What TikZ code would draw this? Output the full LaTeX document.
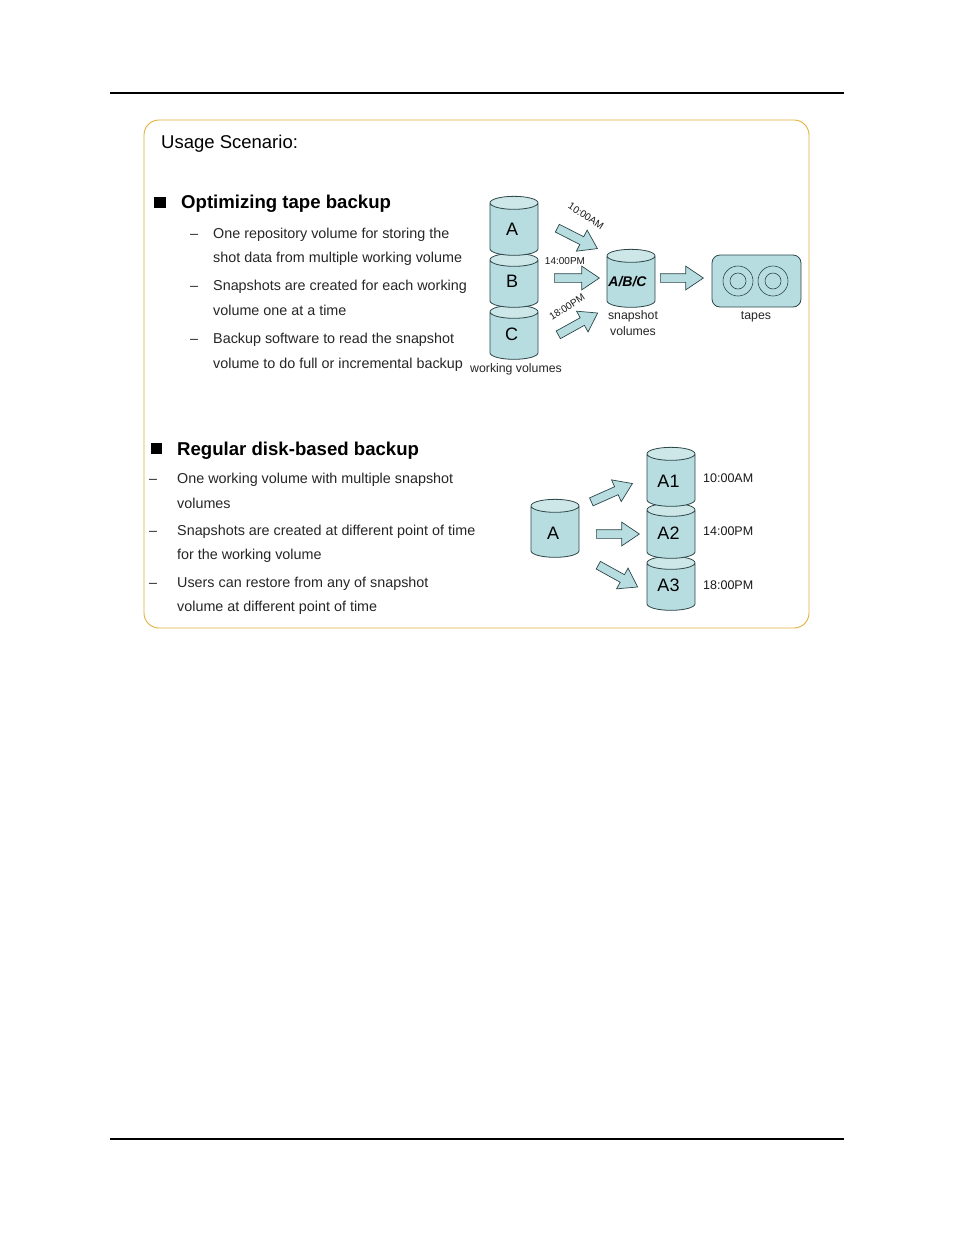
\documentclass[tikz,border=0pt]{standalone}
\usepackage{fontspec}
\usepackage{xcolor}
\setmainfont{Liberation Sans}
\usetikzlibrary{shapes.geometric, shapes.arrows, positioning}
\definecolor{volfill}{RGB}{184,221,225}
\definecolor{voltop}{RGB}{205,231,233}
\definecolor{voledge}{RGB}{45,70,72}
\definecolor{framegold}{RGB}{226,176,60}
\begin{document}
\begin{tikzpicture}[x=1pt, y=-1pt,
      vol/.style={cylinder, shape border rotate=90, draw=voledge, line width=0.8pt,
                  cylinder uses custom fill, cylinder body fill=volfill, cylinder end fill=voltop,
                  aspect=1, minimum width=48pt, inner sep=6.5pt},
      vollabel/.style={font=\fontsize{18}{18}\selectfont, inner sep=0pt},
      blockarrow/.style={single arrow, draw=voledge, line width=0.7pt, fill=volfill, inner sep=4pt,
                  single arrow head extend=7.5pt, single arrow head indent=0pt,
                  single arrow tip angle=68, anchor=tail},
      head/.style={anchor=base west, inner sep=0pt, font=\fontsize{18.6}{18.6}\selectfont\bfseries},
      body/.style={anchor=base west, inner sep=0pt, font=\fontsize{14.35}{14.35}\selectfont, text=black!85},
      small/.style={anchor=base, inner sep=0pt, font=\fontsize{12.3}{12.3}\selectfont, text=black!85},
      stamp/.style={font=\fontsize{10}{10}\selectfont, text=black!90, inner sep=0pt},
      bulletbox/.style={fill=black, minimum size=11.5pt, inner sep=0pt}]
    \useasboundingbox (0,0) rectangle (954,1235);
    \fill[white] (0,0) rectangle (954,1235);
    \draw[line width=1.8pt] (110,93) -- (844,93);
    \draw[line width=1.8pt] (110,1139) -- (844,1139);
    \draw[framegold, line width=0.9pt, rounded corners=15pt] (144,120) rectangle (809,628);

    \node[anchor=base west, inner sep=0pt, font=\fontsize{18.5}{18.5}\selectfont] (title) at (161,148) {Usage Scenario:};

    % first block
    \node[bulletbox] (bulA) at (160,202.5) {};
    \node[head] (headA) at (181,208) {Optimizing tape backup};
    \node[body] (la1) at (213,238) {One repository volume for storing the};
    \node[body] (la2) at (213,262) {shot data from multiple working volume};
    \node[body] (la3) at (213,290) {Snapshots are created for each working};
    \node[body] (la4) at (213,315) {volume one at a time};
    \node[body] (la5) at (213,343) {Backup software to read the snapshot};
    \node[body] (la6) at (213,368) {volume to do full or incremental backup};
    \foreach \yy/\nm in {238/a,290/b,343/c}
      \node[body] (da\nm) at (190,\yy) {--};

    % second block
    \node[bulletbox] (bulB) at (156.5,448.5) {};
    \node[head] (headB) at (177,455) {Regular disk-based backup};
    \node[body] (lb1) at (177,483) {One working volume with multiple snapshot};
    \node[body] (lb2) at (177,508) {volumes};
    \node[body] (lb3) at (177,535) {Snapshots are created at different point of time};
    \node[body] (lb4) at (177,559) {for the working volume};
    \node[body] (lb5) at (177,587) {Users can restore from any of snapshot};
    \node[body] (lb6) at (177,611) {volume at different point of time};
    \foreach \yy/\nm in {483/a,535/b,587/c}
      \node[body] (db\nm) at (149,\yy) {--};

    % working volumes
    \node[vol, minimum height=54pt] (volC) at (514,338) {};
    \node[vol, minimum height=54pt] (volB) at (514,286) {};
    \node[vol, minimum height=59pt] (volA) at (514,231.5) {};
    \node[vollabel] (txtA) at (512,229) {A};
    \node[vollabel] (txtB) at (512,281.5) {B};
    \node[vollabel] (txtC) at (511.5,334) {C};
    \node[small] (lblwork) at (516,372) {working volumes};

    % snapshot volume and tapes
    \node[vol, minimum height=58pt] (volS) at (631,284) {};
    \node[vollabel, font=\fontsize{14}{14}\selectfont\bfseries\itshape] (txtS) at (627.5,282) {A/B/C};
    \node[small] (lblsnapa) at (633,319) {snapshot};
    \node[small] (lblsnapb) at (633,335) {volumes};
    \node[draw=voledge, line width=0.8pt, fill=volfill, rounded corners=8pt, minimum width=89pt, minimum height=52pt] (tape) at (756.5,281) {};
    \foreach \xx/\nm in {738/a,773/b} {
      \node[circle, draw=voledge, line width=0.6pt, minimum size=30pt, inner sep=0pt] (reel\nm) at (\xx,281) {};
      \node[circle, draw=voledge, line width=0.6pt, minimum size=16pt, inner sep=0pt] (hub\nm) at (\xx,281) {};
    }
    \node[small] (lbltape) at (756,319) {tapes};

    % block arrows of the first block
    \node[blockarrow, minimum height=45pt, rotate=-27] (arA) at (557,228) {};
    \node[blockarrow, minimum height=45pt] (arB) at (554,278) {};
    \node[blockarrow, minimum height=45pt, rotate=29] (arC) at (558,335) {};
    \node[blockarrow, minimum height=43pt] (arS) at (660,278) {};
    \node[stamp, rotate=-33] (tA) at (586,216) {10:00AM};
    \node[stamp] (tB) at (565,261) {14:00PM};
    \node[stamp, rotate=33] (tC) at (567,307) {18:00PM};

    % second group of volumes
    \node[vol, minimum height=58pt] (volX) at (555,534) {};
    \node[vol, minimum height=54pt] (volAc) at (671,589) {};
    \node[vol, minimum height=55pt] (volAb) at (671,536.5) {};
    \node[vol, minimum height=59pt] (volAa) at (671,482.5) {};
    \node[vollabel] (txtX) at (553,533) {A};
    \node[vollabel] (txtAa) at (668.5,481) {A1};
    \node[vollabel] (txtAb) at (668.5,533) {A2};
    \node[vollabel] (txtAc) at (668.5,585) {A3};
    \node[blockarrow, minimum height=45pt, rotate=24] (arD) at (591,502) {};
    \node[blockarrow, minimum height=43pt] (arE) at (596,534) {};
    \node[blockarrow, minimum height=45pt, rotate=-29] (arF) at (598,565) {};
    \node[stamp, anchor=base west, font=\fontsize{12.5}{12.5}\selectfont] (ta) at (703,482) {10:00AM};
    \node[stamp, anchor=base west, font=\fontsize{12.5}{12.5}\selectfont] (tb) at (703,535) {14:00PM};
    \node[stamp, anchor=base west, font=\fontsize{12.5}{12.5}\selectfont] (tc) at (703,589) {18:00PM};
\end{tikzpicture}
\end{document}
